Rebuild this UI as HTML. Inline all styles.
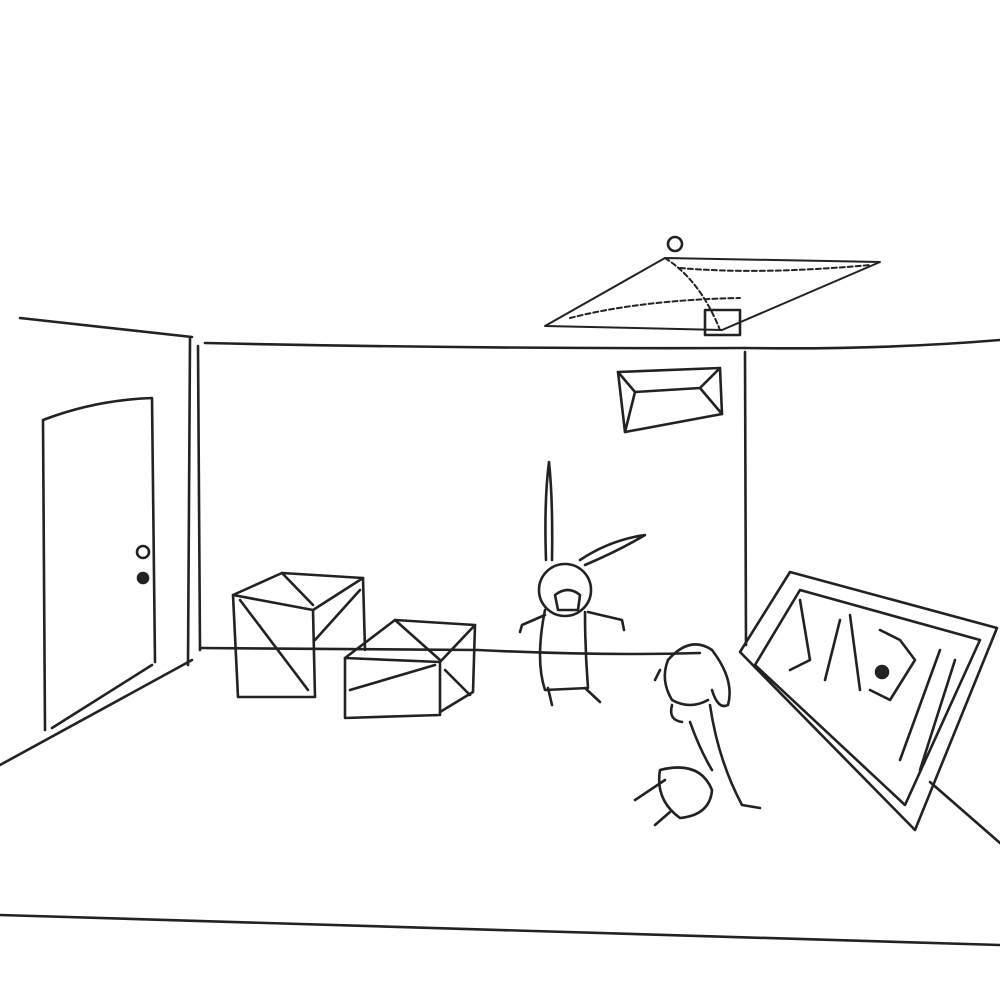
<!DOCTYPE html>
<html><head><meta charset="utf-8"><style>html,body{margin:0;padding:0;background:#fff}svg{display:block}</style></head>
<body>
<svg width="1000" height="1000" viewBox="0 0 1000 1000" xmlns="http://www.w3.org/2000/svg" fill="none" stroke="#222" stroke-width="2.6" stroke-linecap="round" stroke-linejoin="round">
<!-- walls -->
<path d="M20 318 L192 337"/>
<path d="M190 338 L188 665"/>
<path d="M205 343 Q480 349 745 348"/>
<path d="M745 348 Q880 350 1000 340"/>
<path d="M198 346 L200 650"/>
<path d="M745 352 L746 645"/>
<path d="M200 648 L478 650 M478 650 Q600 656 700 653"/>
<path d="M192 660 L0 765"/>
<path d="M930 782 L1000 843"/>
<path d="M0 915 Q500 930 1000 945"/>
<!-- door -->
<path d="M45 730 L43 420 Q95 400 152 398 L155 662"/>
<path d="M52 728 L152 665"/>
<circle cx="143" cy="552" r="6"/>
<circle cx="143" cy="578" r="5" fill="#222"/>
<!-- vent -->
<path d="M618 372 L720 368 L722 414 L625 432 Z"/>
<path d="M618 372 L635 392 L700 388 L720 368 M635 392 L625 432 M700 388 L722 414"/>
<!-- chandelier -->
<path d="M545 326 L665 258 L880 262 L722 330 Z" stroke-width="2"/>
<path d="M665 258 Q700 280 720 330 M570 318 Q640 300 740 298 M680 268 Q760 275 870 265" stroke-width="2" stroke-dasharray="5 3"/>
<circle cx="675" cy="244" r="7"/>
<path d="M705 310 L740 310 L740 335 L705 335 Z"/>
<!-- box 1 -->
<path d="M233 595 L313 610 L315 697 L238 697 Z"/>
<path d="M233 595 L282 573 L363 578 L313 610"/>
<path d="M363 578 L365 650"/>
<path d="M240 600 L308 690 M282 573 L313 605 M315 640 L360 590"/>
<!-- box 2 -->
<path d="M345 658 L440 662 L440 715 L345 718 Z"/>
<path d="M345 658 L395 620 L475 625 L440 662"/>
<path d="M475 625 L473 692 L440 712"/>
<path d="M395 620 L440 660 M350 690 L435 665 M445 670 L470 695"/>
<!-- character 1 -->
<path d="M546 560 Q544 500 549 462 Q553 500 552 560"/>
<path d="M580 560 Q610 540 645 535 Q620 550 585 565"/>
<circle cx="565" cy="590" r="26"/>
<path d="M555 595 Q568 585 580 595 L578 610 L558 610 Z"/>
<path d="M545 610 Q535 660 545 690 L588 688 Q585 650 585 612"/>
<path d="M545 615 L522 625 L520 632 M588 612 L622 620 L624 630"/>
<path d="M548 688 L552 705 M585 688 L600 702"/>
<!-- character 2 -->
<path d="M668 660 Q690 635 712 650 Q735 680 728 705 Q718 710 712 690"/>
<path d="M668 660 Q660 680 672 700 Q690 710 708 700"/>
<path d="M660 670 L655 680 M672 705 Q668 720 682 722"/>
<path d="M710 705 Q718 760 742 805 L760 808"/>
<path d="M690 722 Q700 750 712 770"/>
<path d="M660 770 Q700 760 712 790 Q710 815 680 818 Q655 800 660 770 Z"/>
<path d="M665 780 L635 800 M670 812 L655 825"/>
<!-- TV -->
<path d="M790 572 L997 628 L915 830 L740 652 Z"/>
<path d="M800 590 L980 640 L905 805 L755 665 Z"/>
<path d="M800 600 L810 660 L790 670 M840 620 L825 680 M850 615 L860 690 M880 630 L900 640 L915 660 L890 700 L870 690 M940 650 L900 760 M955 660 L920 770"/>
<circle cx="882" cy="672" r="6" fill="#222"/>
</svg>
</body></html>
